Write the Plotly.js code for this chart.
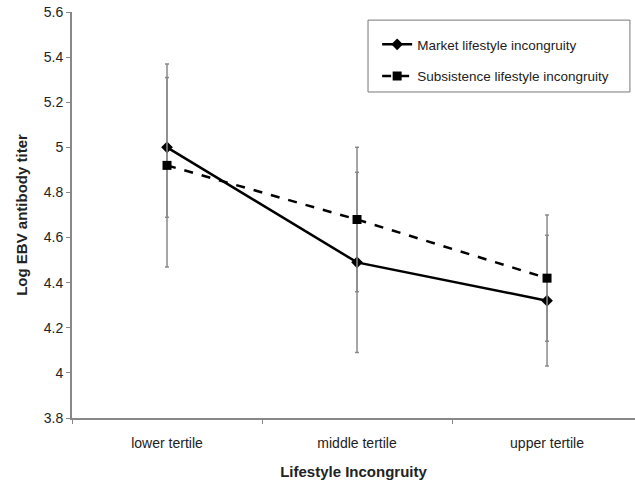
<!DOCTYPE html>
<html>
<head>
<meta charset="utf-8">
<script src="https://cdn.plot.ly/plotly-3.0.1.min.js"></script>
<style>html,body{margin:0;padding:0;background:#fff;}</style>
</head>
<body>
<div id="chart" style="width:635px;height:480px;"></div>
<script>
const categories = ["lower tertile", "middle tertile", "upper tertile"];
const marketValues = [5.00, 4.49, 4.32];
const marketErrors = [0.31, 0.40, 0.29];
const subsistenceValues = [4.92, 4.68, 4.42];
const subsistenceErrors = [0.45, 0.32, 0.28];
const yTickValues = [3.8, 4, 4.2, 4.4, 4.6, 4.8, 5, 5.2, 5.4, 5.6];
const yTickLabels = ["3.8", "4", "4.2", "4.4", "4.6", "4.8", "5", "5.2", "5.4", "5.6"];

const errStyle = {type: 'data', visible: true, color: '#8a8a8a', thickness: 1.5, width: 2};

const traces = [
  {
    x: categories, y: marketValues, name: 'Market lifestyle incongruity',
    type: 'scatter', mode: 'lines+markers', legendgroup: 'a',
    line: {color: '#000', width: 2.5},
    marker: {symbol: 'diamond', size: 9, color: '#000'},
    error_y: Object.assign({array: marketErrors}, errStyle)
  },
  {
    x: categories, y: subsistenceValues, name: 'Subsistence lifestyle incongruity',
    type: 'scatter', mode: 'lines+markers', legendgroup: 'b',
    line: {color: '#000', width: 2.5, dash: 'dash'},
    marker: {symbol: 'square', size: 9, color: '#000'},
    error_y: Object.assign({array: subsistenceErrors}, errStyle)
  }
];

const layout = {
  width: 635, height: 480,
  margin: {l: 72, r: 0, t: 12, b: 62},
  paper_bgcolor: '#fff', plot_bgcolor: '#fff',
  font: {family: 'Liberation Sans, Arial, sans-serif', size: 14, color: '#222'},
  showlegend: true,
  legend: {
    x: 0.542, y: 0.958, xanchor: 'left', yanchor: 'top',
    borderwidth: 0, bgcolor: 'rgba(0,0,0,0)',
    font: {size: 13.5, color: '#222'},
    tracegroupgap: 11
  },
  shapes: [{
    type: 'rect', xref: 'paper', yref: 'paper',
    x0: 0.5258, x1: 0.991, y0: 0.803, y1: 0.980,
    line: {color: '#777', width: 1}, fillcolor: 'rgba(0,0,0,0)', layer: 'above'
  }],
  xaxis: {
    type: 'category', range: [-0.5, 2.463],
    showline: true, linecolor: '#888', linewidth: 2,
    ticks: 'outside', tickson: 'boundaries', ticklen: 4, tickcolor: '#888',
    ticklabelstandoff: 11,
    showgrid: false, zeroline: false,
    tickfont: {size: 14, color: '#222'},
    title: {text: '<b>Lifestyle Incongruity</b>', font: {size: 15, color: '#222'}, standoff: 19}
  },
  yaxis: {
    range: [3.8, 5.6],
    tickvals: yTickValues, ticktext: yTickLabels,
    showline: true, linecolor: '#888', linewidth: 2,
    ticks: 'outside', ticklen: 4, tickcolor: '#888',
    showgrid: false, zeroline: false,
    tickfont: {size: 14, color: '#222'},
    title: {text: '<b>Log EBV antibody titer</b>', font: {size: 15, color: '#222'}, standoff: 12}
  }
};

Plotly.newPlot('chart', traces, layout, {displayModeBar: false, staticPlot: true});
</script>
</body>
</html>
